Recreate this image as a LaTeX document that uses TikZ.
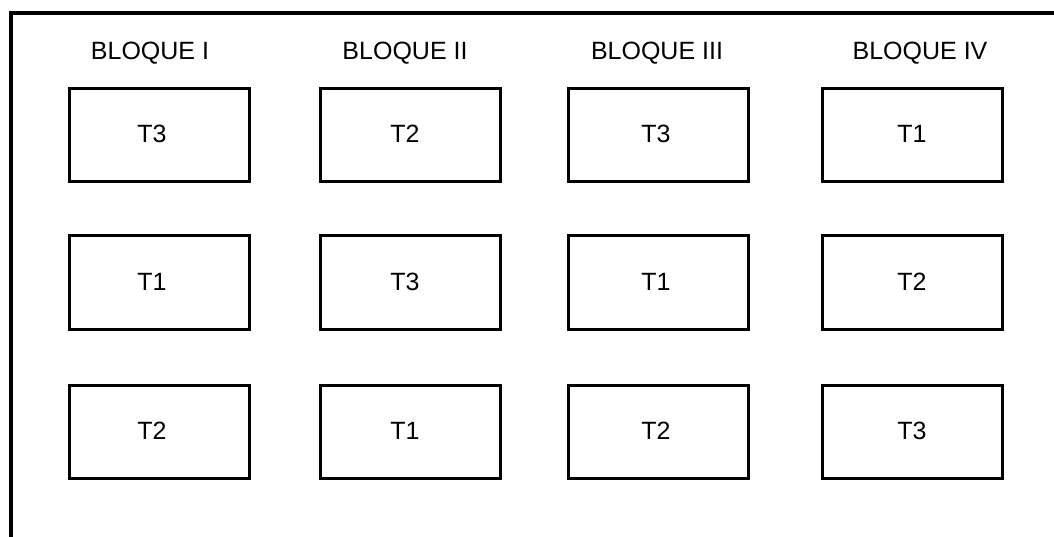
\documentclass[tikz,border=0pt]{standalone}
\usepackage{fontspec}
\setmainfont{Liberation Sans}
\begin{document}
\begin{tikzpicture}[x=1pt,y=-1pt,
  cell/.style={draw=black, line width=3pt, minimum width=180pt, minimum height=93pt, inner sep=0pt},
  lbl/.style={font=\fontsize{25}{28}\selectfont, inner sep=0pt, anchor=center},
  hdr/.style={font=\fontsize{25}{28}\selectfont, inner sep=0pt, anchor=center}]
\useasboundingbox (0,0) rectangle (1054,537);
% frame
\coordinate (fb) at (11,537);
\coordinate (fc) at (11,13);
\coordinate (fr) at (1054,13);
\draw[line width=4pt] (fb) -- (fc) -- (fr);
% headers
\node[hdr] (h1) at (150,53) {BLOQUE I};
\node[hdr] (h2) at (405,53) {BLOQUE II};
\node[hdr] (h3) at (657,53) {BLOQUE III};
\node[hdr] (h4) at (920,53) {BLOQUE IV};
% boxes
\node[cell] (b11) at (159.5,135) {};
\node[cell] (b12) at (410,135) {};
\node[cell] (b13) at (658.5,135) {};
\node[cell] (b14) at (912.5,135) {};
\node[cell] (b21) at (159.5,282.5) {};
\node[cell] (b22) at (410,282.5) {};
\node[cell] (b23) at (658.5,282.5) {};
\node[cell] (b24) at (912.5,282.5) {};
\node[cell] (b31) at (159.5,431.5) {};
\node[cell] (b32) at (410,431.5) {};
\node[cell] (b33) at (658.5,431.5) {};
\node[cell] (b34) at (912.5,431.5) {};
% labels
\node[lbl] (l11) at (152,134) {T3};
\node[lbl] (l12) at (405,134) {T2};
\node[lbl] (l13) at (656,134) {T3};
\node[lbl] (l14) at (912,134) {T1};
\node[lbl] (l21) at (152,282) {T1};
\node[lbl] (l22) at (405,282) {T3};
\node[lbl] (l23) at (656,282) {T1};
\node[lbl] (l24) at (912,282) {T2};
\node[lbl] (l31) at (152,431) {T2};
\node[lbl] (l32) at (405,431) {T1};
\node[lbl] (l33) at (656,431) {T2};
\node[lbl] (l34) at (912,431) {T3};
\end{tikzpicture}
\end{document}
